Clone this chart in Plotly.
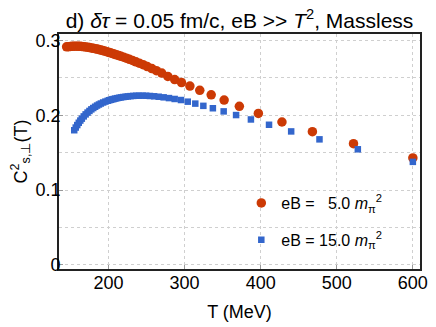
import plotly.graph_objects as go

# eB = 5.0 m_pi^2 (red circles)
T_eb5 = [145, 147.5, 150, 152.5, 155, 157.5, 160, 162.5, 165, 167.5, 170, 172.5,
         175, 177.5, 180, 182.5, 185, 187.5, 190, 192.5, 195, 197.5, 200, 202.5,
         205, 207.5, 210.5, 213.5, 216.5, 220, 223.5, 227.5, 231.5, 236, 240.5,
         245.5, 251, 257, 263, 270, 278, 287, 296, 307, 320, 335, 352, 372, 397,
         428, 468, 522, 600]
cs2_eb5 = [0.2915, 0.2918, 0.2920, 0.2922, 0.2923, 0.2923, 0.2923, 0.2922, 0.2920,
           0.2917, 0.2914, 0.2910, 0.2906, 0.2901, 0.2896, 0.2891, 0.2885, 0.2879,
           0.2872, 0.2865, 0.2858, 0.2851, 0.2843, 0.2835, 0.2827, 0.2819, 0.2809,
           0.2799, 0.2788, 0.2776, 0.2763, 0.2748, 0.2733, 0.2715, 0.2697, 0.2676,
           0.2652, 0.2624, 0.2596, 0.2564, 0.2520, 0.2477, 0.2438, 0.2390, 0.2334,
           0.2273, 0.2204, 0.2120, 0.2025, 0.1910, 0.1780, 0.1620, 0.1429]

# eB = 15.0 m_pi^2 (blue squares)
T_eb15 = [155, 157, 159, 161, 163, 165, 167.5, 170, 172.5, 175, 177.5, 180, 182.5,
          185, 187.5, 190, 193, 196, 199, 201, 203, 205, 207, 209, 211.5, 214,
          216.5, 219.5, 222.5, 225.5, 229, 232.5, 236.5, 240.5, 245, 249.5, 254.5,
          260, 266, 272.5, 279.5, 287, 295.3, 304.2, 314.1, 324.7, 337.2, 351.4,
          367.7, 387.2, 411, 440.1, 477.3, 527.7, 600]
cs2_eb15 = [0.1800, 0.1836, 0.1869, 0.1900, 0.1929, 0.1955, 0.1985, 0.2012, 0.2036,
            0.2058, 0.2079, 0.2097, 0.2114, 0.2130, 0.2144, 0.2157, 0.2171, 0.2183,
            0.2194, 0.2201, 0.2207, 0.2213, 0.2218, 0.2223, 0.2229, 0.2234, 0.2239,
            0.2244, 0.2248, 0.2252, 0.2256, 0.2259, 0.2261, 0.2262, 0.2262, 0.2261,
            0.2258, 0.2254, 0.2248, 0.2240, 0.2230, 0.2218, 0.2204, 0.2182, 0.2156,
            0.2126, 0.2094, 0.2052, 0.2003, 0.1944, 0.1873, 0.1784, 0.1678, 0.1545,
            0.1377]

x_ticks = [200, 300, 400, 500, 600]
y_ticks = [0, 0.1, 0.2, 0.3]

RED = "#CC3A05"
BLUE = "#3366CC"
FONT = "Liberation Sans, Arial, sans-serif"

fig = go.Figure()
fig.add_trace(go.Scatter(
    x=T_eb5, y=cs2_eb5, mode="markers", name="eB =   5.0 <i>m</i><sub>π</sub><sup>2</sup>",
    legendgroup="a",
    marker=dict(symbol="circle", size=9.5, color=RED, line=dict(width=0)),
))
fig.add_trace(go.Scatter(
    x=T_eb15, y=cs2_eb15, mode="markers", name="eB = 15.0 <i>m</i><sub>π</sub><sup>2</sup>",
    legendgroup="b",
    marker=dict(symbol="square", size=6.5, color=BLUE, line=dict(width=0)),
))

# The page body adds an 8px offset, so the figure is sized to fit the window.
fig.update_layout(
    width=428, height=319,
    margin=dict(l=50, r=8, t=26, b=51),
    paper_bgcolor="white", plot_bgcolor="white",
    font=dict(family=FONT, size=18, color="black"),
    title=dict(text="d) <i>δτ</i> = 0.05 fm/c, eB >> <i>T</i><sup>2</sup>, Massless",
               x=0.5, xref="paper", xanchor="center",
               y=0.961, yref="container", yanchor="middle",
               font=dict(family=FONT, size=21, color="black")),
    showlegend=True,
    legend=dict(x=0.505, y=0.353, xanchor="left", yanchor="top",
                bgcolor="rgba(0,0,0,0)", font=dict(family=FONT, size=16),
                traceorder="grouped", tracegroupgap=13, itemsizing="trace"),
)
fig.update_xaxes(
    range=[135, 609.4], tickvals=x_ticks, ticktext=[str(v) for v in x_ticks],
    showgrid=True, gridcolor="#CFCFCF", griddash="dot", gridwidth=1,
    showline=True, linecolor="#222", linewidth=1.6, mirror=True,
    ticks="inside", ticklen=4, tickcolor="#999",
    zeroline=False, ticklabeloverflow="allow", ticklabelstandoff=-3,
    title=dict(text="T (MeV)", font=dict(size=18), standoff=13),
    tickfont=dict(size=18),
)
fig.update_yaxes(
    range=[-0.0056, 0.3087], tickvals=y_ticks, ticktext=["0", "0.1", "0.2", "0.3"],
    showgrid=True, gridcolor="#CFCFCF", griddash="dot", gridwidth=1,
    minor=dict(dtick=0.05, tick0=0, showgrid=True, gridcolor="#CFCFCF", griddash="dot", ticks=""),
    showline=True, linecolor="#222", linewidth=1.6, mirror=True,
    ticks="inside", ticklen=4, tickcolor="#999",
    zeroline=False, ticklabeloverflow="allow", ticklabelstandoff=-7,
    title=dict(text="C<sup>2</sup><sub>s,⊥</sub>(T)", font=dict(size=18), standoff=7),
    tickfont=dict(size=18),
)

fig.write_html("out.html")
